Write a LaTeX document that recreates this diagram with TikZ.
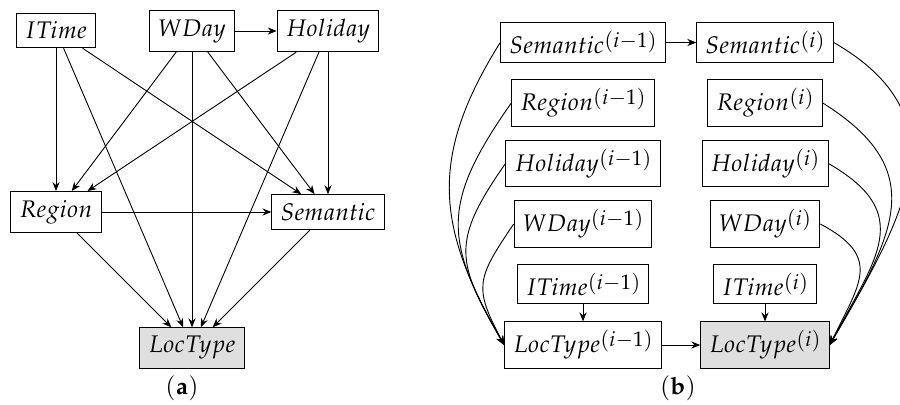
\documentclass[tikz,border=0pt]{standalone}
\usepackage{mathpazo}
\usetikzlibrary{arrows.meta}
\newcommand\supx[1]{\raisebox{3pt}{\fontsize{10.5}{12}\selectfont$#1$}}
\begin{document}
\begin{tikzpicture}[x=0.5pt,y=0.5pt,
  box/.style={draw,line width=0.5pt,inner sep=4.3pt,font=\fontsize{12}{14}\selectfont},
  target/.style={box,fill=gray!25},
  edge/.style={line width=0.45pt,-{Stealth[length=4.5pt,width=3.6pt,inset=1.5pt]}},
  lbl/.style={font=\fontsize{12}{14}\selectfont}]
\useasboundingbox (0,0) rectangle (900,404);
% ---------- (a) ----------
\node[box] (it) at (56,373.5) {$ITime$};
\node[box] (wd) at (192,373) {$WDay$};
\node[box] (ho) at (328,373) {$Holiday$};
\node[box] (re) at (56,192) {$Region$};
\node[box] (se) at (328,192) {$Semantic$};
\node[target] (lt) at (192,56) {$LocType$};
\node[lbl] (la) at (182,16) {$\mathbf{(a)}$};
\draw[edge] (it) -- (re);
\draw[edge] (it) -- (lt);
\draw[edge] (it) -- (se);
\draw[edge] (wd) -- (ho);
\draw[edge] (wd) -- (re);
\draw[edge] (wd) -- (lt);
\draw[edge] (wd) -- (se);
\draw[edge] (ho) -- (re);
\draw[edge] (ho) -- (lt);
\draw[edge] (ho) -- (se);
\draw[edge] (re) -- (se);
\draw[edge] (re) -- (lt);
\draw[edge] (se) -- (lt);
% ---------- (b) ----------
\node[box] (s1) at (583,361.5) {$Semantic$\supx{(i{-}1)}};
\node[box] (s2) at (765,361.5) {$Semantic$\supx{(i)}};
\node[box] (r1) at (583,301) {$Region$\supx{(i{-}1)}};
\node[box] (r2) at (765,301) {$Region$\supx{(i)}};
\node[box] (h1) at (583,240.5) {$Holiday$\supx{(i{-}1)}};
\node[box] (h2) at (765,240.5) {$Holiday$\supx{(i)}};
\node[box] (w1) at (583,180) {$WDay$\supx{(i{-}1)}};
\node[box] (w2) at (765,180) {$WDay$\supx{(i)}};
\node[box] (t1) at (583,120) {$ITime$\supx{(i{-}1)}};
\node[box] (t2) at (765,120) {$ITime$\supx{(i)}};
\node[box] (l1) at (583,59) {$LocType$\supx{(i{-}1)}};
\node[target] (l2) at (765,59) {$LocType$\supx{(i)}};
\node[lbl] (lb) at (678,16) {$\mathbf{(b)}$};
\draw[edge] (s1) -- (s2);
\draw[edge] (l1) -- (l2);
\draw[edge] (t1) -- (l1);
\draw[edge] (t2) -- (l2);
\draw[edge] (s1.west) .. controls +(238:136) and +(120:136) .. (l1.west);
\draw[edge] (r1.west) .. controls +(235:122) and +(120:122) .. (l1.west);
\draw[edge] (h1.west) .. controls +(235:96) and +(120:96) .. (l1.west);
\draw[edge] (w1.west) .. controls +(236:66) and +(118:66) .. (l1.west);
\draw[edge] (s2.east) .. controls +(-30:150) and +(60:150) .. (l2.east);
\draw[edge] (r2.east) .. controls +(-32:128) and +(60:128) .. (l2.east);
\draw[edge] (h2.east) .. controls +(-30:100) and +(62:100) .. (l2.east);
\draw[edge] (w2.east) .. controls +(-28:70) and +(64:70) .. (l2.east);
\end{tikzpicture}
\end{document}
